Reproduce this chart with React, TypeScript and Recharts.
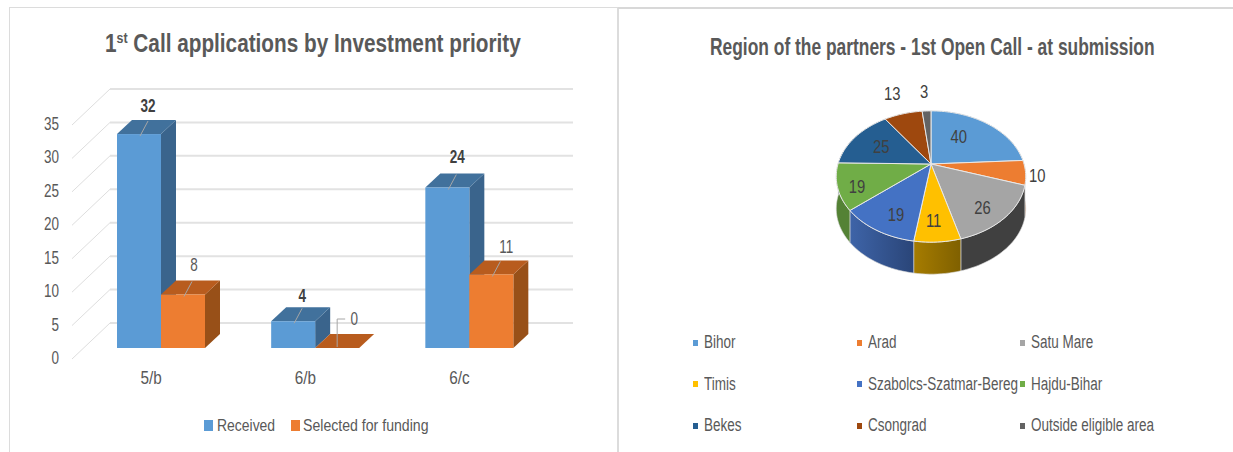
import React from "react";
import { BarChart, Bar, XAxis, YAxis, CartesianGrid, Legend, LabelList, PieChart, Pie, Cell } from "recharts";

const categories = ["5/b", "6/b", "6/c"];
const received = [32, 4, 24];
const selected = [8, 0, 11];
const yTicks = [0, 5, 10, 15, 20, 25, 30, 35];

const regions = ["Bihor", "Arad", "Satu Mare", "Timis", "Szabolcs-Szatmar-Bereg", "Hajdu-Bihar", "Bekes", "Csongrad", "Outside eligible area"];
const partners = [40, 10, 26, 11, 19, 19, 25, 13, 3];
const topColors = ["#5B9BD5", "#ED7D31", "#A5A5A5", "#FFC000", "#4472C4", "#70AD47", "#255E91", "#9E480E", "#636363"];
const sideColors = ["#3B6E9C", "#A85A24", "#404040", "url(#gold)", "url(#navy)", "#548235", "#1B4569", "#6F330A", "#444444"];

const FONT = "'Liberation Sans', sans-serif";
const TEXT = "#595959";
const barRows = categories.map((c, i) => ({ c, received: received[i], selected: selected[i] }));
const pieRows = regions.map((name, i) => ({ name, value: partners[i] }));

const NText = ({ x, y, sx = 0.75, size = 18, anchor = "middle", weight = 400, fill = TEXT, children }: any) => (
  <text transform={`translate(${x} ${y}) scale(${sx} 1)`} textAnchor={anchor} fontFamily={FONT} fontSize={size} fontWeight={weight} fill={fill}>
    {children}
  </text>
);

// ---- left chart helpers
const DX = 15;
const DY = 14;
const Bar3D = (colors: string[]) => (p: any) => {
  const { x, y, width, height } = p;
  const b = y + height;
  return (
    <g>
      <path d={`M${x + width} ${y}L${x + width + DX} ${y - DY}L${x + width + DX} ${b - DY}L${x + width} ${b}Z`} fill={colors[2]} />
      <path d={`M${x} ${y}L${x + DX} ${y - DY}L${x + width + DX} ${y - DY}L${x + width} ${y}Z`} fill={colors[1]} />
      {height > 0 && <rect x={x} y={y} width={width} height={height} fill={colors[0]} />}
    </g>
  );
};
const GridLine = (p: any) => {
  const y = p.y1;
  return (
    <g key={p.key ?? y}>
      <line x1={72} y1={y + 11} x2={110} y2={y - 25} stroke="#dedede" strokeWidth={1} />
      <line x1={110} y1={y - 25} x2={573} y2={y - 25} stroke="#e2e2e2" strokeWidth={2} />
    </g>
  );
};
const YTick = (p: any) => <NText x={p.x - 17} y={p.y + 16} anchor="end">{p.payload.value}</NText>;
const XTick = (p: any) => <NText x={p.x - 10} y={p.y + 28} sx={0.85}>{p.payload.value}</NText>;
const BarLabel = (labelDx: number[], labelDy: number[], bold: boolean) => (p: any) => {
  const { x, y, width, value, index } = p;
  const cx = x + width / 2;
  const tx = cx + labelDx[index];
  const ty = y + labelDy[index];
  return (
    <g>
      {value === 0 ? (
        <path d={`M${cx} ${y - 1}V${ty}H${cx + 8}`} fill="none" stroke="#a6a6a6" />
      ) : (
        <line x1={cx + 1} y1={y + 2} x2={cx + 9} y2={y - 13} stroke="#a6a6a6" />
      )}
      <NText x={tx} y={ty + 6} weight={bold ? 700 : 400} fill={bold ? "#404040" : TEXT}>{value}</NText>
    </g>
  );
};
const BarLegend = () => (
  <div style={{ position: "relative", height: 20, fontFamily: FONT, fontSize: 17, color: TEXT, whiteSpace: "nowrap" }}>
    <span style={{ position: "absolute", left: 0, top: 3, width: 9, height: 11, background: "#5B9BD5" }} />
    <span style={{ position: "absolute", left: 13, top: -1, transform: "scaleX(0.82)", transformOrigin: "left" }}>Received</span>
    <span style={{ position: "absolute", left: 87, top: 3, width: 9, height: 11, background: "#ED7D31" }} />
    <span style={{ position: "absolute", left: 99, top: -1, transform: "scaleX(0.83)", transformOrigin: "left" }}>Selected for funding</span>
  </div>
);

// ---- right chart helpers
const K = 0.191;
const rimPoint = (cx: number, cy: number, R: number, deg: number, r = 1) => {
  const a = (deg * Math.PI) / 180;
  const u = Math.cos(a) * r;
  const v = Math.sin(a) * r;
  const w = 1 + K * v;
  return [cx + (R * u) / w, cy - (R * 0.68 * v) / w];
};
const arcPoints = (cx: number, cy: number, R: number, from: number, to: number) => {
  const n = Math.max(2, Math.ceil(Math.abs(to - from) / 2));
  const out: number[][] = [];
  for (let i = 0; i <= n; i++) out.push(rimPoint(cx, cy, R, from + ((to - from) * i) / n));
  return out;
};
const DEPTH = 32;
const SideShape = (p: any) => {
  const pts = arcPoints(p.cx, p.cy, p.outerRadius, p.startAngle, p.endAngle);
  const low = [...pts].reverse().map(([x, y]) => [x, y + DEPTH]);
  const d = "M" + [...pts, ...low].map((q) => q.join(" ")).join("L") + "Z";
  return <path d={d} fill={sideColors[p.index ?? 0]} stroke="#d8d8d8" strokeWidth={0.6} />;
};
const TopShape = (p: any) => {
  const pts = arcPoints(p.cx, p.cy, p.outerRadius, p.startAngle, p.endAngle);
  const d = `M${p.cx} ${p.cy}L` + pts.map((q) => q.join(" ")).join("L") + "Z";
  return <path d={d} fill={p.fill} stroke="#e8e8e8" strokeWidth={1} />;
};
const labelRadius = [0.55, 1.12, 0.75, 0.75, 0.7, 0.8, 0.6, 1.17, 1.15];
const labelNudgeX = [-5, 0, -2, -2, 1, 0, -3, -7, -2];
const labelNudgeY = [-5, 1, 5, 1, 6, 4, -1, -14, -13];
const PieLabel = (p: any) => {
  const i = p.index;
  const [x, y] = rimPoint(p.cx, p.cy, p.outerRadius, p.midAngle, labelRadius[i]);
  return <NText x={x + labelNudgeX[i]} y={y + labelNudgeY[i] + 7} size={19} sx={0.78} fill="#404040">{p.value}</NText>;
};
const PieLegend = (p: any) => (
  <div style={{ display: "grid", gridTemplateColumns: "164px 162.5px 164px", fontFamily: FONT, fontSize: 18, color: TEXT }}>
    {(p.payload ?? []).slice(-regions.length).map((e: any) => (
      <div key={e.value} style={{ height: 41.5, display: "flex", alignItems: "center", whiteSpace: "nowrap" }}>
        <span style={{ width: 5, height: 6, background: e.color, marginRight: 6, flex: "none" }} />
        <span style={{ display: "inline-block", transform: "scaleX(0.75)", transformOrigin: "left" }}>{e.value}</span>
      </div>
    ))}
  </div>
);

export default function App() {
  return (
    <div style={{ position: "absolute", left: 0, top: 0, width: 1233, height: 452, overflow: "hidden", background: "#fff" }}>
      <div style={{ position: "absolute", left: 9, top: 7, width: 607, height: 445, borderLeft: "1px solid #dcdcdc", borderTop: "1px solid #dcdcdc", borderRight: "2px solid #dcdcdc" }} />
      <div style={{ position: "absolute", left: 618, top: 7, width: 615, height: 2, background: "#d8d8d8" }} />
      <div style={{ position: "absolute", left: 0, top: 0 }}>
        <BarChart width={617} height={452} data={barRows} barSize={44} barGap={0} margin={{ top: 114, right: 70.5, bottom: 54, left: 60 }}>
          <text transform="translate(105 52) scale(0.83 1)" fontFamily={FONT} fontSize={25} fontWeight={700} fill={TEXT}>
            1<tspan fontSize={15} dy={-9}>st</tspan><tspan dy={9}> Call applications by Investment priority</tspan>
          </text>
          <CartesianGrid vertical={false} horizontal={GridLine as any} />
          <XAxis dataKey="c" axisLine={false} tickLine={false} tick={XTick as any} height={30} interval={0} />
          <YAxis domain={[0, 35]} ticks={yTicks} axisLine={false} tickLine={false} tick={YTick as any} width={24} />
          <Bar dataKey="received" name="Received" fill="#5B9BD5" isAnimationActive={false} shape={Bar3D(["#5B9BD5", "#41719C", "#3A648C"]) as any}>
            <LabelList dataKey="received" content={BarLabel([9, 9, 10], [-28, -25, -31], true) as any} />
          </Bar>
          <Bar dataKey="selected" name="Selected for funding" fill="#ED7D31" isAnimationActive={false} shape={Bar3D(["#ED7D31", "#B85C1E", "#985018"]) as any}>
            <LabelList dataKey="selected" content={BarLabel([11, 17, 15], [-30, -29, -27], false) as any} />
          </Bar>
          <Legend content={BarLegend as any} wrapperStyle={{ position: "absolute", left: 204, top: 417, width: 260 }} />
        </BarChart>
      </div>
      <div style={{ position: "absolute", left: 0, top: 0, pointerEvents: "none" }}>
        <PieChart width={1233} height={452} margin={{ top: 0, right: 0, bottom: 0, left: 0 }}>
          <defs>
            <linearGradient id="gold" x1="0" y1="0" x2="1" y2="0">
              <stop offset="0" stopColor="#A67C00" />
              <stop offset="1" stopColor="#7F6000" />
            </linearGradient>
            <linearGradient id="navy" x1="0" y1="0" x2="1" y2="0">
              <stop offset="0" stopColor="#3E64A8" />
              <stop offset="1" stopColor="#2A4578" />
            </linearGradient>
          </defs>
          <text transform="translate(710 55) scale(0.725 1)" fontFamily={FONT} fontSize={24} fontWeight={700} fill={TEXT}>Region of the partners - 1st Open Call - at submission</text>
          <Pie data={pieRows} dataKey="value" nameKey="name" cx={931} cy={164} outerRadius={93} startAngle={90} endAngle={-270} paddingAngle={0} isAnimationActive={false} legendType="none" shape={SideShape as any} />
          <Pie data={pieRows} dataKey="value" nameKey="name" cx={931} cy={164} outerRadius={93} startAngle={90} endAngle={-270} paddingAngle={0} isAnimationActive={false} legendType="square" shape={TopShape as any} label={PieLabel as any} labelLine={false}>
            {pieRows.map((r, i) => <Cell key={r.name} fill={topColors[i]} />)}
          </Pie>
          <Legend content={PieLegend as any} itemSorter={null as any} wrapperStyle={{ position: "absolute", left: 693, top: 322, width: 500 }} />
        </PieChart>
      </div>
    </div>
  );
}
